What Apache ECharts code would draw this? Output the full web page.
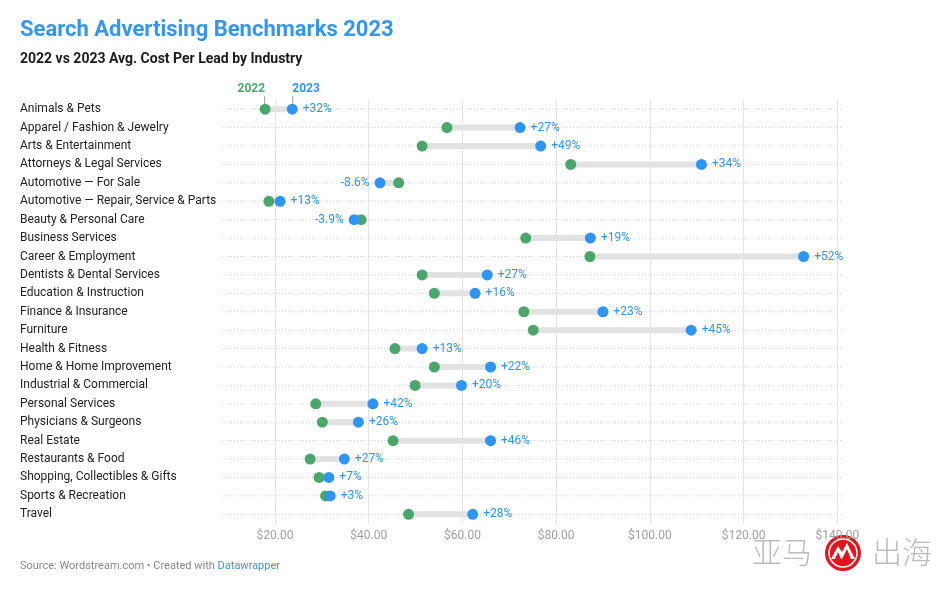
<!DOCTYPE html>
<html>
<head>
<meta charset="utf-8">
<script src="https://cdn.jsdelivr.net/npm/echarts@6/dist/echarts.min.js"></script>
<style>
  html, body { margin: 0; padding: 0; background: #fff; }
  #main { width: 948px; height: 589px; }
</style>
</head>
<body>
<div id="main"></div>
<script>
var industries = [
  'Animals & Pets',
  'Apparel / Fashion & Jewelry',
  'Arts & Entertainment',
  'Attorneys & Legal Services',
  'Automotive — For Sale',
  'Automotive — Repair, Service & Parts',
  'Beauty & Personal Care',
  'Business Services',
  'Career & Employment',
  'Dentists & Dental Services',
  'Education & Instruction',
  'Finance & Insurance',
  'Furniture',
  'Health & Fitness',
  'Home & Home Improvement',
  'Industrial & Commercial',
  'Personal Services',
  'Physicians & Surgeons',
  'Real Estate',
  'Restaurants & Food',
  'Shopping, Collectibles & Gifts',
  'Sports & Recreation',
  'Travel'
];
// avg cost per lead, USD
var cpl2022 = [17.9, 56.7, 51.4, 83.1, 46.4, 18.7, 38.4, 73.5, 87.2, 51.4, 54.0, 73.1, 75.1, 45.6, 54.0, 49.9, 28.7, 30.1, 45.2, 27.5, 29.4, 30.8, 48.5];
var cpl2023 = [23.7, 72.3, 76.7, 111.0, 42.4, 21.1, 36.9, 87.3, 132.8, 65.3, 62.7, 90.0, 108.8, 51.4, 66.0, 59.8, 40.9, 37.8, 66.0, 34.8, 31.5, 31.8, 62.2];
var changeLabels = ['+32%', '+27%', '+49%', '+34%', '-8.6%', '+13%', '-3.9%', '+19%', '+52%', '+27%', '+16%', '+23%', '+45%', '+13%', '+22%', '+20%', '+42%', '+26%', '+46%', '+27%', '+7%', '+3%', '+28%'];

var GREEN = '#4aa66a';
var BLUE = '#2f95f4';
var FONT = 'Roboto';

var chart = echarts.init(document.getElementById('main'));

var rangeData = industries.map(function (name, i) {
  return [i, cpl2022[i], cpl2023[i]];
});

// "2022" / "2023" key above the first row, with a small tick down to the dot
function annotation(text, color, side) {
  return {
    show: true,
    position: 'top',
    distance: 5,
    align: side,
    formatter: '{t|' + text + '}\n{l|}',
    rich: {
      t: { fontFamily: FONT, fontSize: 12, fontWeight: 'bold', color: color, lineHeight: 14, align: side },
      l: { width: 1, height: 8, backgroundColor: '#999', align: side }
    }
  };
}

var option = {
  backgroundColor: '#fff',
  animation: false,
  textStyle: { fontFamily: FONT },
  title: [
    {
      text: 'Search Advertising Benchmarks 2023',
      left: 20, top: 19, padding: 0,
      textStyle: { fontFamily: FONT, fontSize: 22, fontWeight: 'bold', color: '#3397ef' }
    },
    {
      text: '2022 vs 2023 Avg. Cost Per Lead by Industry',
      left: 20, top: 52, padding: 0,
      textStyle: { fontFamily: FONT, fontSize: 14, fontWeight: 'bold', color: '#1b1b1b' }
    },
    {
      text: '{a|Source: Wordstream.com • Created with }{b|Datawrapper}',
      left: 20, top: 561, padding: 0,
      textStyle: {
        fontWeight: 'normal',
        rich: {
          a: { fontFamily: FONT, fontSize: 11, fontWeight: 'normal', color: '#888' },
          b: { fontFamily: FONT, fontSize: 11, fontWeight: 'normal', color: '#3a98d8' }
        }
      }
    }
  ],
  grid: { left: 222, right: 105, top: 100, bottom: 65.5 },
  xAxis: {
    type: 'value',
    min: 8.7,
    max: 141.2,
    splitNumber: 7,
    axisLine: { show: false },
    axisTick: { show: false },
    axisLabel: {
      color: '#a0a0a0', fontSize: 12, fontFamily: FONT, margin: 6,
      showMinLabel: false, showMaxLabel: false,
      formatter: function (v) { return '$' + v.toFixed(2); }
    },
    splitLine: { show: true, showMinLine: false, showMaxLine: false, lineStyle: { color: '#e4e4e4', width: 1 } }
  },
  yAxis: {
    type: 'category',
    data: industries,
    inverse: true,
    axisLine: { show: false },
    axisTick: { show: false },
    splitLine: { show: false },
    axisLabel: { align: 'left', margin: 202, color: '#222', fontSize: 12, fontFamily: FONT }
  },
  series: [
    {
      type: 'custom',
      data: rangeData,
      encode: { y: 0, x: [1, 2] },
      silent: true,
      z: 1,
      renderItem: function (params, api) {
        var p1 = api.coord([api.value(1), api.value(0)]);
        var p2 = api.coord([api.value(2), api.value(0)]);
        var cs = params.coordSys;
        return {
          type: 'group',
          children: [
            {
              type: 'line',
              shape: { x1: cs.x, y1: p1[1], x2: cs.x + cs.width, y2: p1[1] },
              style: { stroke: '#cfcfcf', lineWidth: 1, lineDash: [1, 2] }
            },
            {
              type: 'line',
              shape: { x1: p1[0], y1: p1[1], x2: p2[0], y2: p2[1] },
              style: { stroke: '#e2e2e2', lineWidth: 6 }
            }
          ]
        };
      }
    },
    {
      name: '2022',
      type: 'scatter',
      symbolSize: 11,
      z: 3,
      itemStyle: { color: GREEN, opacity: 1 },
      data: cpl2022.map(function (v, i) { return [v, i]; }),
      markPoint: {
        symbol: 'circle',
        symbolSize: 0,
        silent: true,
        data: [{ coord: [cpl2022[0], 0] }],
        label: annotation('2022', GREEN, 'right')
      }
    },
    {
      name: '2023',
      type: 'scatter',
      symbolSize: 11,
      z: 4,
      itemStyle: { color: BLUE, opacity: 1 },
      data: cpl2023.map(function (v, i) {
        return {
          value: [v, i],
          label: { position: v < cpl2022[i] ? 'left' : 'right' }
        };
      }),
      label: {
        show: true,
        distance: 5,
        color: BLUE,
        fontSize: 12,
        fontFamily: FONT,
        formatter: function (p) { return changeLabels[p.dataIndex]; }
      },
      markPoint: {
        symbol: 'circle',
        symbolSize: 0,
        silent: true,
        data: [{ coord: [cpl2023[0], 0] }],
        label: annotation('2023', BLUE, 'left')
      }
    }
  ],
  graphic: [
    {
      type: 'text', left: 752, top: 537, silent: true,
      style: { text: '亚马', fontFamily: 'Noto Sans CJK SC', fontSize: 30, fontWeight: 300, fill: '#bbbbbb' }
    },
    {
      type: 'text', left: 872, top: 537, silent: true,
      style: { text: '出海', fontFamily: 'Noto Sans CJK SC', fontSize: 30, fontWeight: 300, fill: '#bbbbbb' }
    },
    {
      type: 'group', left: 825, top: 535, silent: true,
      children: [
        { type: 'circle', shape: { cx: 18, cy: 18, r: 18 }, style: { fill: '#e3141e' } },
        { type: 'circle', shape: { cx: 18, cy: 18, r: 14 }, style: { fill: 'none', stroke: '#fff', lineWidth: 1.5 } },
        { type: 'polygon', shape: { points: [[6, 24], [13, 11], [17, 17], [22, 8], [30, 24]] }, style: { fill: '#fff' } },
        { type: 'polygon', shape: { points: [[10, 24], [13, 17], [16, 24]] }, style: { fill: '#e3141e' } },
        { type: 'polygon', shape: { points: [[17, 24], [22, 14], [26, 24]] }, style: { fill: '#e3141e' } }
      ]
    }
  ]
};

chart.setOption(option);
</script>
</body>
</html>
